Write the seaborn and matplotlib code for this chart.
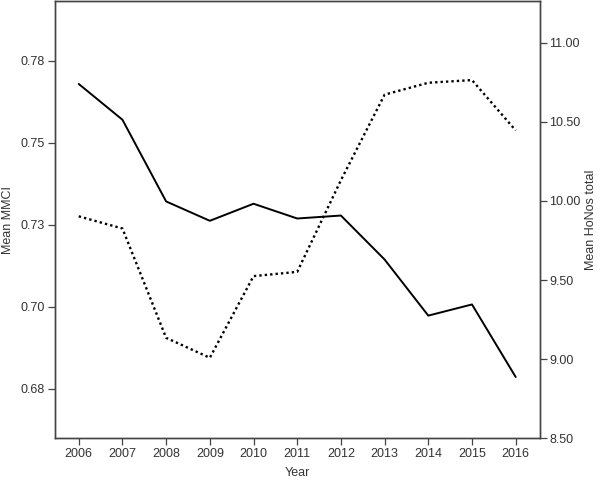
import matplotlib
matplotlib.use("Agg")
import matplotlib.pyplot as plt
import seaborn as sns
import pandas as pd
from matplotlib.ticker import FixedLocator, FixedFormatter

years = [2006, 2007, 2008, 2009, 2010, 2011, 2012, 2013, 2014, 2015, 2016]
mmci = [0.7679, 0.7570, 0.7321, 0.7262, 0.7314, 0.7269, 0.7278, 0.7144, 0.6973, 0.7007, 0.6786]
honos = [9.903, 9.826, 9.135, 9.009, 9.525, 9.552, 10.131, 10.672, 10.747, 10.764, 10.446]
left_ticks = [0.675, 0.70, 0.725, 0.75, 0.775]
left_labels = ["0.68", "0.70", "0.73", "0.75", "0.78"]
right_ticks = [8.5, 9.0, 9.5, 10.0, 10.5, 11.0]
right_labels = ["8.50", "9.00", "9.50", "10.00", "10.50", "11.00"]

df = pd.DataFrame({"Year": years, "MMCI": mmci, "HoNOS": honos})

sns.set_style("white")
plt.rcParams["font.family"] = ["Liberation Sans", "DejaVu Sans"]
txt = "#333333"
spc = "#444444"

fig = plt.figure(figsize=(6.0, 4.83), dpi=100)
ax = fig.add_axes([0.0912, 0.0925, 0.8083, 0.9055])
ax2 = ax.twinx()

sns.lineplot(data=df, x="Year", y="MMCI", ax=ax, color="black", lw=1.4)
sns.lineplot(data=df, x="Year", y="HoNOS", ax=ax2, color="black", lw=1.7,
             linestyle=(0, (1, 1.3)))

ax.set_xlim(2005.45, 2016.55)
ax.set_ylim(0.6599, 0.7932)
ax2.set_ylim(8.5, 11.264)

ax.set_xticks(years)
ax.set_xticklabels([str(y) for y in years])
ax.yaxis.set_major_locator(FixedLocator(left_ticks))
ax.yaxis.set_major_formatter(FixedFormatter(left_labels))
ax2.yaxis.set_major_locator(FixedLocator(right_ticks))
ax2.yaxis.set_major_formatter(FixedFormatter(right_labels))

for a in (ax, ax2):
    for s in a.spines.values():
        s.set_visible(True)
        s.set_color(spc)
        s.set_linewidth(1.0)
    a.tick_params(axis="both", direction="out", length=5, width=0.9,
                  color=spc, labelcolor=txt, labelsize=9, pad=2)

ax.tick_params(axis="y", left=True, right=False)
ax.tick_params(axis="x", bottom=True)
ax2.tick_params(axis="y", right=True, left=False)

ax.set_xlabel("Year", fontsize=9, color=txt, labelpad=5)
ax.set_ylabel("Mean MMCI", fontsize=9, color=txt, labelpad=5)
ax2.set_ylabel("Mean HoNos total", fontsize=9, color=txt, labelpad=3,
               rotation=90)
ax2.yaxis.set_label_position("right")

fig.savefig("out.png", dpi=100)
